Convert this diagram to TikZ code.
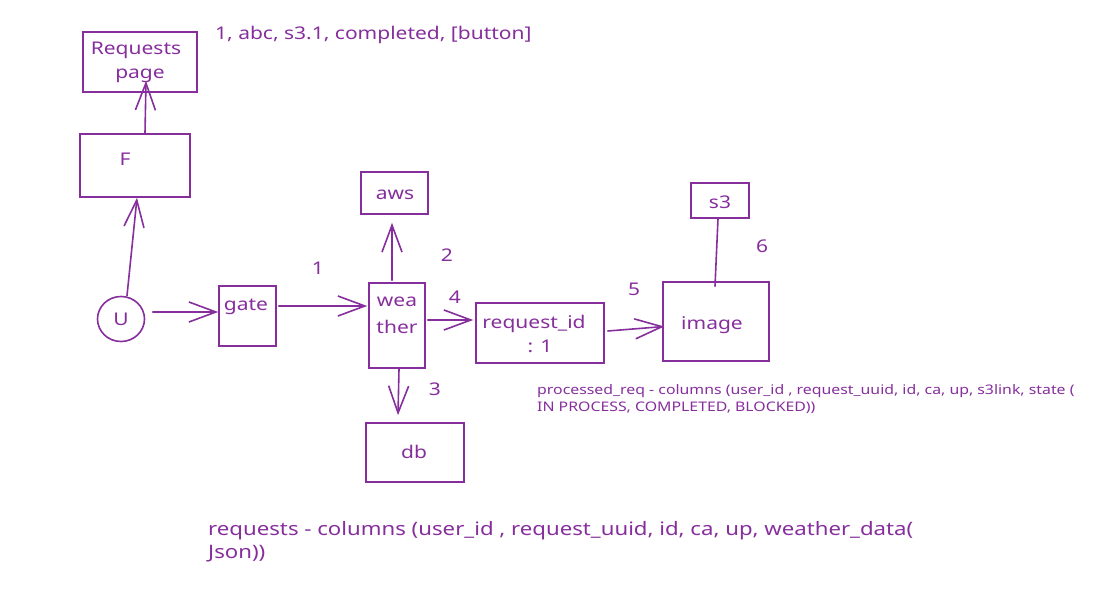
\documentclass[tikz,border=0pt]{standalone}
\usepackage{fontspec}
\setmainfont{Noto Sans}[FakeStretch=1.2]
\usetikzlibrary{arrows.meta,shapes.geometric}
\definecolor{ex}{HTML}{862E9C}
\tikzset{
  box/.style={draw=ex, line width=1.6pt, inner sep=0pt},
  arr/.style={draw=ex, line width=1.6pt, line cap=round, line join=round,
              -{Straight Barb[length=27pt,width=20pt,line width=1.6pt]}},
  conn/.style={draw=ex, line width=1.6pt, line cap=round},
  lbl/.style={text=ex, inner sep=0pt, font=\fontsize{17.5}{20}\selectfont},
  small/.style={text=ex, inner sep=0pt, font=\fontsize{13.2}{18}\selectfont},
  big/.style={text=ex, inner sep=0pt, font=\fontsize{18.5}{22}\selectfont},
}
\begin{document}
\begin{tikzpicture}[x=1pt,y=-1pt]
\useasboundingbox (0,0) rectangle (1117,596);
% boxes
\node[box, minimum width=114pt, minimum height=60pt] (req) at (140,62) {};
\node[box, minimum width=110pt, minimum height=63pt] (F) at (135,165.5) {};
\node[box, ellipse, minimum width=47pt, minimum height=45pt] (U) at (121,319) {};
\node[box, minimum width=57pt, minimum height=60pt] (gate) at (247.5,316) {};
\node[box, minimum width=56pt, minimum height=85pt] (weather) at (397,325.5) {};
\node[box, minimum width=67pt, minimum height=42pt] (aws) at (394.5,193) {};
\node[box, minimum width=98pt, minimum height=59pt] (db) at (415,452.5) {};
\node[box, minimum width=128pt, minimum height=60pt] (rid) at (540,333) {};
\node[box, minimum width=106pt, minimum height=79pt] (image) at (716,321.5) {};
\node[box, minimum width=58pt, minimum height=35pt] (s3) at (720,200.5) {};
% texts in boxes
\node[lbl] (reqt1) at (136,50) {Requests};
\node[lbl] (reqt2) at (140,76) {page};
\node[lbl] (Ft) at (125,159) {F};
\node[lbl] (Ut) at (121,319) {U};
\node[lbl] (gatet) at (246,307) {gate};
\node[lbl] (weat1) at (397,302) {wea};
\node[lbl] (weat2) at (397,327) {ther};
\node[lbl] (awst) at (395,195) {aws};
\node[lbl] (dbt) at (414,452) {db};
\node[lbl] (ridt1) at (534,324) {request\_id};
\node[lbl] (ridt2) at (540,346) {: 1};
\node[lbl] (imaget) at (712,325) {image};
\node[lbl] (s3t) at (720,202) {s3};
% numbers
\node[lbl] (n1) at (318,268) {1};
\node[lbl] (n2) at (447,255) {2};
\node[lbl] (n3) at (435,389) {3};
\node[lbl] (n4) at (455,297) {4};
\node[lbl] (n5) at (634,289) {5};
\node[lbl] (n6) at (762,246) {6};
% notes
\node[lbl, anchor=base west] (top) at (215,40) {1, abc, s3.1, completed, [button]};
\node[small, anchor=base west] (pr1) at (537,394) {processed\_req - columns (user\_id , request\_uuid, id, ca, up, s3link, state (};
\node[small, anchor=base west] (pr2) at (537,411) {IN PROCESS, COMPLETED, BLOCKED))};
\node[big, anchor=base west] (rq1) at (208,535) {requests - columns (user\_id , request\_uuid, id, ca, up, weather\_data(};
\node[big, anchor=base west] (rq2) at (208,558) {Json))};
% connectors
\draw[arr] ([xshift=6pt]U.north) -- ([xshift=2pt]F.south);
\draw[arr] ([xshift=10pt]F.north) -- ([xshift=6pt,yshift=12pt]req.south);
\draw[arr] ([xshift=7.5pt,yshift=7pt]U.east) -- ([yshift=4pt]gate.west);
\draw[arr] ([xshift=2pt,yshift=10pt]gate.east) -- ([xshift=-1pt,yshift=19.5pt]weather.west);
\draw[arr] ([xshift=-5pt,yshift=2pt]weather.north) -- ([xshift=-2.5pt,yshift=-8pt]aws.south);
\draw[arr] ([xshift=2pt,yshift=5.5pt]weather.east) -- ([xshift=-2pt,yshift=13pt]rid.west);
\draw[arr] ([xshift=2pt]weather.south) -- ([xshift=-17pt,yshift=7pt]db.north);
\draw[arr] ([xshift=3pt,yshift=2pt]rid.east) -- ([xshift=2pt,yshift=-5pt]image.west);
\draw[conn] ([xshift=-2pt]s3.south) -- ([xshift=-1pt,yshift=-5pt]image.north);
\end{tikzpicture}
\end{document}
